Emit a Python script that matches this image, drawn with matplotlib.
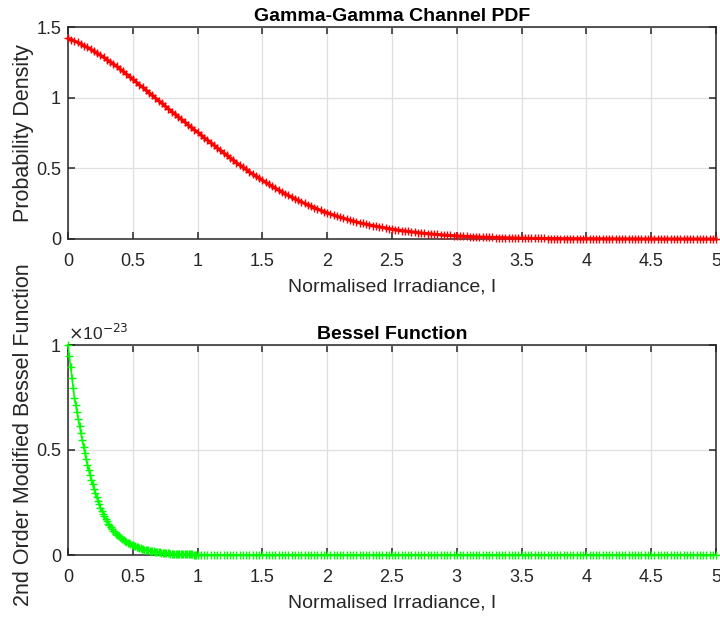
import numpy as np
import matplotlib
matplotlib.use("Agg")
import matplotlib.pyplot as plt

plt.rcParams['font.family'] = ['Liberation Sans', 'DejaVu Sans']

# Gamma-Gamma pdf (step 0.025 in I)
irr_pdf = np.round(np.arange(201) * 0.025, 3)
pdf_vals = [1.420,
    1.411, 1.401, 1.391, 1.380, 1.368, 1.355, 1.342, 1.328, 1.314, 1.300,
    1.285, 1.270, 1.254, 1.238, 1.221, 1.204, 1.186, 1.168, 1.149, 1.130,
    1.112, 1.093, 1.074, 1.055, 1.036, 1.017, 0.998, 0.979, 0.960, 0.940,
    0.921, 0.902, 0.884, 0.865, 0.847, 0.828, 0.810, 0.791, 0.773, 0.755,
    0.737, 0.718, 0.700, 0.682, 0.664, 0.646, 0.628, 0.610, 0.593, 0.575,
    0.558, 0.541, 0.524, 0.508, 0.492, 0.476, 0.460, 0.445, 0.430, 0.415,
    0.401, 0.387, 0.373, 0.359, 0.346, 0.333, 0.320, 0.308, 0.296, 0.285,
    0.274, 0.263, 0.252, 0.242, 0.232, 0.222, 0.212, 0.203, 0.194, 0.185,
    0.177, 0.169, 0.161, 0.154, 0.147, 0.140, 0.133, 0.127, 0.121, 0.115,
    0.110, 0.105, 0.100, 0.095, 0.091, 0.086, 0.082, 0.078, 0.074, 0.070,
    0.067, 0.063, 0.060, 0.057, 0.054, 0.051, 0.048, 0.045, 0.043, 0.040,
    0.038, 0.036, 0.034, 0.032, 0.030, 0.028, 0.026, 0.025, 0.023, 0.022,
    0.021, 0.020, 0.018, 0.017, 0.016, 0.015, 0.014, 0.013, 0.0125, 0.012,
    0.011, 0.0105, 0.0098, 0.0091, 0.0085, 0.0079, 0.0074, 0.0069, 0.0064, 0.0060,
    0.0056, 0.0052, 0.0049, 0.0045, 0.0042, 0.0039, 0.0037, 0.0034, 0.0032, 0.0030,
    0.0028, 0.0026, 0.0024, 0.0023, 0.0021, 0.0020, 0.0018, 0.0017, 0.0016, 0.0015,
    0.0014, 0.0013, 0.0012, 0.0011, 0.0010, 0.0009, 0.0009, 0.0008, 0.0007, 0.0007,
    0.0006, 0.0006, 0.0005, 0.0005, 0.0005, 0.0004, 0.0004, 0.0004, 0.0003, 0.0003,
    0.0003, 0.0003, 0.0002, 0.0002, 0.0002, 0.0002, 0.0002, 0.0001, 0.0001, 0.0001,
    0.0001, 0.0001, 0.0001, 0.0001, 0.0001, 0.0000, 0.0000, 0.0000, 0.0000, 0.0000]

# Bessel function in units of 1e-23: fine steps (0.01) up to 1, then 0.025
irr_bes = np.concatenate([np.round(np.arange(101) * 0.01, 2),
                          np.round(1 + np.arange(1, 161) * 0.025, 3)])
bes_vals = [1.000,
    0.946, 0.895, 0.845, 0.797, 0.750, 0.714, 0.680, 0.646, 0.613, 0.580,
    0.548, 0.516, 0.486, 0.457, 0.430, 0.405, 0.381, 0.358, 0.336, 0.315,
    0.295, 0.276, 0.258, 0.241, 0.225, 0.211, 0.197, 0.184, 0.172, 0.160,
    0.150, 0.141, 0.132, 0.123, 0.115, 0.108, 0.102, 0.096, 0.090, 0.085,
    0.080, 0.075, 0.071, 0.066, 0.062, 0.059, 0.055, 0.052, 0.049, 0.046,
    0.043, 0.041, 0.038, 0.036, 0.034, 0.032, 0.030, 0.028, 0.026, 0.025,
    0.023, 0.022, 0.020, 0.019, 0.018, 0.017, 0.016, 0.015, 0.014, 0.013,
    0.012, 0.011, 0.0105, 0.0098, 0.0092, 0.0086, 0.0081, 0.0076, 0.0071, 0.0067,
    0.0063, 0.0059, 0.0055, 0.0052, 0.0049, 0.0046, 0.0043, 0.0040, 0.0038, 0.0036,
    0.0034, 0.0031, 0.0029, 0.0028, 0.0026, 0.0024, 0.0023, 0.0021, 0.0020, 0.0019,
    # tail
    0.0016, 0.0014, 0.0012, 0.0010, 0.0009, 0.0007, 0.0006, 0.0005, 0.0005, 0.0004,
    0.0003, 0.0003, 0.0002, 0.0002, 0.0002, 0.0002, 0.0001, 0.0001, 0.0001, 0.0001,
    0, 0, 0, 0, 0, 0, 0, 0, 0, 0, 0, 0, 0, 0, 0, 0, 0, 0, 0, 0,
    0, 0, 0, 0, 0, 0, 0, 0, 0, 0, 0, 0, 0, 0, 0, 0, 0, 0, 0, 0,
    0, 0, 0, 0, 0, 0, 0, 0, 0, 0, 0, 0, 0, 0, 0, 0, 0, 0, 0, 0,
    0, 0, 0, 0, 0, 0, 0, 0, 0, 0, 0, 0, 0, 0, 0, 0, 0, 0, 0, 0,
    0, 0, 0, 0, 0, 0, 0, 0, 0, 0, 0, 0, 0, 0, 0, 0, 0, 0, 0, 0,
    0, 0, 0, 0, 0, 0, 0, 0, 0, 0, 0, 0, 0, 0, 0, 0, 0, 0, 0, 0,
    0, 0, 0, 0, 0, 0, 0, 0, 0, 0, 0, 0, 0, 0, 0, 0, 0, 0, 0, 0]

xticks = [0, 0.5, 1, 1.5, 2, 2.5, 3, 3.5, 4, 4.5, 5]
xticklabels = ['0', '0.5', '1', '1.5', '2', '2.5', '3', '3.5', '4', '4.5', '5']

axcol = '#262626'
tick_fs = 13
xlab_fs = 14
ylab_fs = 15.5

fig = plt.figure(figsize=(7.2, 6.21), dpi=100)
ax1 = fig.add_axes([68/720, 1-239/621, 648/720, 212/621])
ax2 = fig.add_axes([68/720, 1-555/621, 648/720, 210/621])


def matlab_style(ax):
    ax.set_xlim(0, 5)
    ax.set_xticks(xticks)
    ax.set_xticklabels(xticklabels)
    ax.grid(True, color='#dfdfdf', linewidth=0.9)
    ax.set_axisbelow(True)
    ax.tick_params(direction='in', length=5, width=1.1, colors=axcol,
                   labelsize=tick_fs, top=True, right=True)
    ax.tick_params(axis='x', pad=10)
    ax.tick_params(axis='y', pad=5)
    for s in ax.spines.values():
        s.set_color(axcol)
        s.set_linewidth(1.1)
    ax.set_xlabel('Normalised Irradiance, I', fontsize=xlab_fs, color=axcol, labelpad=6)


ax1.plot(irr_pdf, pdf_vals, '-+', color='#ff0000', markersize=5.5, markeredgewidth=1.0,
         linewidth=2.2, clip_on=False, zorder=3)
matlab_style(ax1)
ax1.set_ylim(0, 1.5)
ax1.set_yticks([0, 0.5, 1, 1.5])
ax1.set_yticklabels(['0', '0.5', '1', '1.5'])
ax1.set_ylabel('Probability Density', fontsize=ylab_fs, color=axcol)
ax1.yaxis.set_label_coords(-0.053, 0.5)
ax1.set_title('Gamma-Gamma Channel PDF', fontsize=14, fontweight='bold', color='black', pad=4)

ax2.plot(irr_bes, bes_vals, '-+', color='#00ff00', markersize=5.5, markeredgewidth=1.0,
         linewidth=1.2, clip_on=False, zorder=3)
matlab_style(ax2)
ax2.set_ylim(0, 1)
ax2.set_yticks([0, 0.5, 1])
ax2.set_yticklabels(['0', '0.5', '1'])
ax2.set_ylabel('2nd Order Modified Bessel Function', fontsize=ylab_fs, color=axcol)
ax2.yaxis.set_label_coords(-0.053, 0.571)
ax2.set_title('Bessel Function', fontsize=14, fontweight='bold', color='black', pad=4)
ax2.text(0.0, 1.01, r'$\times$10$^{-23}$', transform=ax2.transAxes, fontsize=12.5,
         color=axcol, ha='left', va='bottom')

fig.savefig('out.png', dpi=100)
